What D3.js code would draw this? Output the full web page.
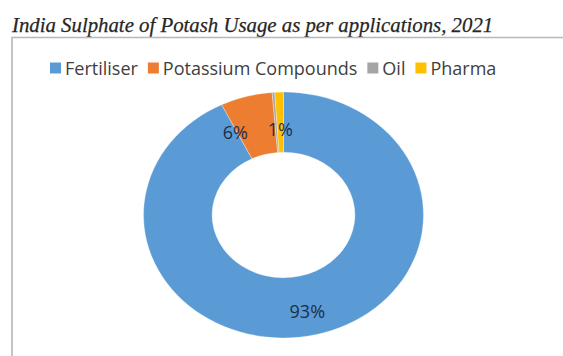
<!DOCTYPE html>
<html>
<head>
<meta charset="utf-8">
<script src="https://cdn.jsdelivr.net/npm/d3@7"></script>
<style>
  html, body { margin: 0; padding: 0; background: #fff; }
  svg { display: block; }
</style>
</head>
<body>
<svg id="chart" width="563" height="356"></svg>
<script>
// Usage shares (%) of sulphate of potash by application
const categories = ["Fertiliser", "Potassium Compounds", "Oil", "Pharma"];
const shares = [93, 6, 0.3, 1];
const colors = ["#5B9BD5", "#ED7D31", "#A5A5A5", "#FFC000"];
const titleText = "India Sulphate of Potash Usage as per applications, 2021";

const W = 563, H = 356;
const svg = d3.select("#chart");

// Title
svg.append("text")
  .attr("x", 12).attr("y", 32)
  .attr("font-family", "'Liberation Serif', 'Times New Roman', serif")
  .attr("font-style", "italic")
  .attr("font-size", 20.8)
  .attr("fill", "#262626")
  .attr("stroke", "#262626").attr("stroke-width", 0.25)
  .text(titleText);

// Chart frame (top and left edges visible)
svg.append("line")
  .attr("x1", 11).attr("x2", W).attr("y1", 37.5).attr("y2", 37.5)
  .attr("stroke", "#b8b8b8").attr("stroke-width", 1.5);
svg.append("line")
  .attr("x1", 12).attr("x2", 12).attr("y1", 37).attr("y2", H)
  .attr("stroke", "#c4c4c4").attr("stroke-width", 2);

// Legend
const legendFont = "'Open Sans', 'Liberation Sans', sans-serif";
const legend = svg.append("g").attr("transform", "translate(50,68)");
let lx = 0;
categories.forEach((c, i) => {
  const g = legend.append("g").attr("transform", `translate(${lx},0)`);
  g.append("rect").attr("x", 0).attr("y", -5.5).attr("width", 11).attr("height", 11)
    .attr("fill", colors[i]);
  const t = g.append("text").attr("x", 15).attr("y", 6.5)
    .attr("font-family", legendFont).attr("font-size", 18)
    .attr("fill", "#404040").text(c);
  lx += 15 + t.node().getComputedTextLength() + 10;
});

// Doughnut (drawn slightly wider than tall)
const cx = 283.5, cy = 215;
const ry = 123, sx = 140 / 123;
const pie = d3.pie().sort(null).value(d => d);
const arcs = pie(shares);
const arc = d3.arc().outerRadius(ry).innerRadius(ry * 0.51);

const ring = svg.append("g").attr("transform", `translate(${cx},${cy}) scale(${sx},1)`);
ring.selectAll("path").data(arcs).join("path")
  .attr("d", arc)
  .attr("fill", (d, i) => colors[i])
  .attr("stroke", "#fff").attr("stroke-width", 0.3);

// Data labels (values below 1% are not labelled)
const labelArc = d3.arc().outerRadius(ry * 0.98).innerRadius(ry * 0.52);
const labels = arcs.filter(d => d.value >= 1).map(d => {
  const [x, y] = labelArc.centroid(d);
  return { x: cx + x * sx, y: cy + y + 6, text: d3.format(".0f")(d.value) + "%" };
});
// keep neighbouring labels apart
labels.sort((a, b) => a.x - b.x);
for (let i = 1; i < labels.length; i++) {
  const a = labels[i - 1], b = labels[i];
  if (Math.abs(a.y - b.y) < 20 && b.x - a.x < 45) a.x = b.x - 45;
}
svg.selectAll("text.lbl").data(labels).join("text")
  .attr("class", "lbl")
  .attr("x", d => d.x).attr("y", d => d.y)
  .attr("text-anchor", "middle").attr("dominant-baseline", "central")
  .attr("font-family", legendFont).attr("font-size", 18)
  .attr("fill", "#1f2d4a")
  .text(d => d.text);
</script>
</body>
</html>
